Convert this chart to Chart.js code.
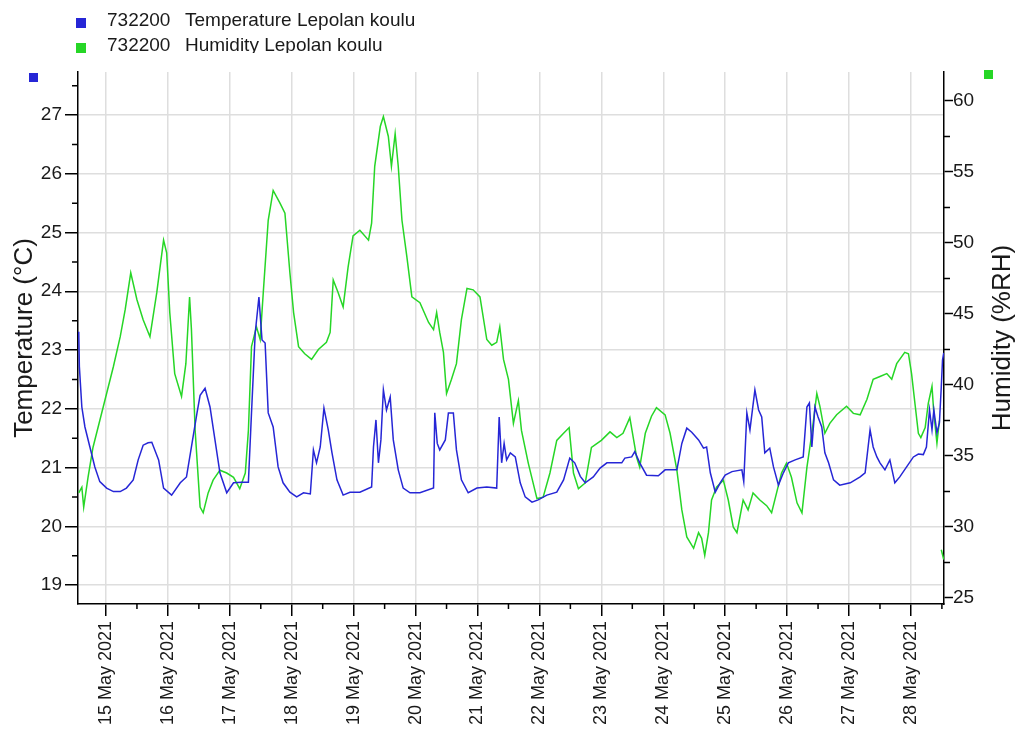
<!DOCTYPE html>
<html>
<head>
<meta charset="utf-8">
<title>Temperature / Humidity Lepolan koulu</title>
<script src="https://cdn.jsdelivr.net/npm/chart.js@4"></script>
<style>
body{margin:0;background:#fff;width:1023px;height:731px;overflow:hidden;position:relative;font-family:'Liberation Sans',Arial,sans-serif}
canvas{position:absolute;left:0;top:0}
.legend{position:absolute;left:0;top:0;width:520px;height:53px;overflow:hidden}
.txt{position:absolute;font-size:19px;line-height:22px;color:#1a1a1a;white-space:pre}
.sq{position:absolute;width:10px;height:10px}
</style>
</head>
<body>
<canvas id="c" width="1023" height="731"></canvas>
<div class="legend">
  <div class="sq" style="left:76px;top:18px;background:#2626d6"></div>
  <div class="txt" style="left:107px;top:9px">732200</div>
  <div class="txt" style="left:185px;top:9px">Temperature Lepolan koulu</div>
  <div class="sq" style="left:76px;top:43px;background:#26d626"></div>
  <div class="txt" style="left:107px;top:34px">732200</div>
  <div class="txt" style="left:185px;top:34px">Humidity Lepolan koulu</div>
</div>
<div class="sq" style="left:29px;top:73px;width:9px;height:9px;background:#2626d6"></div>
<div class="sq" style="left:984px;top:70px;width:9px;height:9px;background:#26d626"></div>
<script>
// x = days since 15 May 2021 00:00
const dayTicks = [0,1,2,3,4,5,6,7,8,9,10,11,12,13];
const dayLabels = ['15 May 2021','16 May 2021','17 May 2021','18 May 2021','19 May 2021','20 May 2021','21 May 2021',
  '22 May 2021','23 May 2021','24 May 2021','25 May 2021','26 May 2021','27 May 2021','28 May 2021'];
const dayMinor = [0.5,1.5,2.5,3.5,4.5,5.5,6.5,7.5,8.5,9.5,10.5,11.5,12.5,13.5];
const tempTicks = [19,20,21,22,23,24,25,26,27];
const tempMinor = [19.5,20.5,21.5,22.5,23.5,24.5,25.5,26.5,27.5];
const humTicks = [25,30,35,40,45,50,55,60];
const humMinor = [27.5,32.5,37.5,42.5,47.5,52.5,57.5];

const xMin = -0.452, xMax = 13.534;
const tMin = 18.677, tMax = 27.732;
const hMin = 24.577, hMax = 62.04;

const tempX = [-0.44,-0.43,-0.39,-0.34,-0.26,-0.18,-0.10,0.01,0.12,0.23,0.33,0.44,0.52,0.60,0.68,0.74,0.85,0.93,
  1.06,1.20,1.30,1.38,1.47,1.52,1.60,1.68,1.76,1.84,1.95,2.06,2.19,2.30,2.35,2.41,2.47,2.52,2.57,2.62,2.70,2.78,2.86,2.97,
  3.08,3.19,3.30,3.35,3.40,3.46,3.52,3.59,3.65,3.73,3.83,3.94,4.10,4.29,4.32,4.36,4.40,4.44,4.48,4.53,4.59,4.64,4.72,4.80,4.91,
  5.07,5.29,5.31,5.35,5.39,5.48,5.53,5.61,5.66,5.74,5.85,5.99,6.15,6.31,6.35,6.39,6.43,6.47,6.53,6.61,6.69,6.77,6.88,6.98,
  7.12,7.28,7.39,7.49,7.57,7.66,7.74,7.87,7.98,8.09,8.33,8.38,8.49,8.54,8.62,8.73,8.92,9.03,9.22,9.30,9.38,9.46,9.57,9.65,9.70,
  9.76,9.84,9.92,10.00,10.11,10.27,10.30,10.35,10.40,10.48,10.54,10.59,10.64,10.72,10.78,10.86,10.94,11.02,11.13,11.26,11.32,
  11.36,11.40,11.45,11.50,11.56,11.61,11.67,11.75,11.85,12.02,12.18,12.26,12.29,12.34,12.39,12.45,12.50,12.58,12.66,12.74,12.82,
  12.93,13.04,13.12,13.20,13.25,13.30,13.34,13.37,13.42,13.46,13.49,13.51,13.53];
const tempY = [23.31,22.72,22.03,21.69,21.35,21.01,20.76,20.65,20.59,20.59,20.65,20.79,21.13,21.38,21.42,21.43,21.13,20.65,
  20.53,20.74,20.84,21.35,21.93,22.23,22.35,22.03,21.47,20.91,20.57,20.74,20.75,20.75,21.93,23.29,23.90,23.17,23.12,21.93,21.69,21.01,20.74,20.58,
  20.50,20.57,20.55,21.30,21.08,21.35,22.01,21.64,21.25,20.79,20.53,20.58,20.58,20.67,21.35,21.81,21.08,21.47,22.32,21.98,22.20,21.47,20.96,20.65,20.57,
  20.57,20.65,21.93,21.41,21.30,21.47,21.93,21.93,21.30,20.79,20.57,20.65,20.67,20.65,21.86,21.08,21.41,21.13,21.25,21.18,20.74,20.50,20.41,20.45,
  20.53,20.58,20.79,21.16,21.08,20.85,20.74,20.84,20.99,21.08,21.08,21.16,21.18,21.27,21.08,20.87,20.86,20.96,20.96,21.41,21.67,21.60,21.47,21.33,21.35,
  20.91,20.58,20.74,20.87,20.93,20.96,20.76,21.93,21.64,22.32,21.98,21.86,21.25,21.33,21.01,20.70,20.91,21.08,21.13,21.18,22.03,
  22.10,21.35,22.03,21.86,21.69,21.25,21.08,20.79,20.70,20.74,20.84,20.91,21.18,21.64,21.35,21.18,21.08,20.96,21.13,20.74,20.84,
  21.01,21.18,21.23,21.22,21.35,21.98,21.64,21.98,21.59,21.76,22.37,22.83,22.95];

const humX = [-0.44,-0.39,-0.36,-0.29,-0.21,-0.10,0.01,0.12,0.23,0.31,0.40,0.50,0.60,0.71,0.82,0.93,0.98,
  1.03,1.11,1.22,1.29,1.35,1.38,1.44,1.52,1.57,1.65,1.73,1.84,1.95,2.06,2.16,2.25,2.30,2.35,2.43,2.49,2.54,2.62,2.70,2.81,2.89,2.97,
  3.03,3.11,3.21,3.32,3.43,3.56,3.62,3.67,3.75,3.83,3.91,3.99,4.10,4.24,4.29,4.34,4.43,4.48,4.56,4.61,4.67,4.72,4.78,4.86,4.94,
  5.07,5.21,5.29,5.34,5.39,5.45,5.50,5.58,5.66,5.74,5.83,5.93,6.04,6.15,6.23,6.31,6.36,6.42,6.50,6.58,6.66,6.71,6.82,6.96,
  7.06,7.17,7.28,7.39,7.48,7.55,7.63,7.74,7.84,8.00,8.14,8.25,8.35,8.46,8.57,8.62,8.71,8.81,8.89,9.03,9.11,9.22,9.30,9.38,9.49,
  9.57,9.62,9.67,9.73,9.78,9.86,9.97,10.05,10.13,10.19,10.29,10.37,10.45,10.56,10.67,10.75,10.83,10.91,10.99,11.07,11.16,11.24,
  11.32,11.40,11.48,11.53,11.61,11.69,11.80,11.96,12.07,12.18,12.29,12.39,12.50,12.61,12.69,12.77,12.90,12.96,13.01,13.07,13.12,
  13.16,13.23,13.28,13.34,13.37,13.42,13.46,13.47,13.49,13.53];
const humY = [32.4,32.8,31.4,33.5,35.6,37.5,39.4,41.3,43.4,45.3,47.9,46.0,44.6,43.4,46.5,50.2,49.3,
  45.1,40.8,39.2,41.5,46.2,43.9,36.8,31.4,31.0,32.4,33.3,34.0,33.8,33.5,32.7,33.8,36.8,42.7,44.1,43.2,46.5,51.6,53.7,52.8,52.1,47.9,
  45.1,42.7,42.2,41.8,42.5,43.0,43.7,47.4,46.5,45.5,48.3,50.5,50.9,50.2,51.4,55.4,58.2,58.9,57.5,55.4,57.7,55.4,51.6,49.0,46.2,
  45.8,44.4,43.9,45.1,43.7,42.3,39.4,40.4,41.5,44.6,46.8,46.7,46.2,43.2,42.8,43.0,44.1,41.8,40.4,37.3,38.9,36.8,34.5,32.0,
  32.1,33.8,36.1,36.6,37.0,33.8,32.7,33.1,35.6,36.1,36.7,36.3,36.6,37.7,34.9,34.2,36.6,37.8,38.4,37.9,36.6,34.0,31.2,29.3,28.5,
  29.6,29.2,28.0,29.6,31.9,32.8,33.3,31.9,30.0,29.6,31.9,31.2,32.4,31.9,31.5,31.0,32.4,33.8,34.5,33.5,31.7,31.0,
  34.2,36.6,39.4,38.5,36.6,37.3,37.9,38.5,38.0,37.9,39.0,40.4,40.6,40.8,40.4,41.5,42.3,42.2,40.8,38.5,36.6,
  36.3,37.0,38.7,39.9,38.0,35.9,37.5,null,28.4,27.7];

const BLUE = '#2626d6', GREEN = '#26d626', GRID = '#dedede', INK = '#1a1a1a';

Chart.defaults.font.family = "'Liberation Sans', Arial, sans-serif";

// minor ticks and the right axis title (reads bottom to top like the left one)
const extras = {
  id: 'extras',
  afterDraw(chart) {
    const ctx = chart.ctx;
    const sx = chart.scales.x, st = chart.scales.yT, sh = chart.scales.yH;
    ctx.save();
    ctx.strokeStyle = '#000';
    ctx.lineWidth = 1.5;
    ctx.beginPath();
    dayMinor.forEach(v => { if (v > sx.max) return; const p = sx.getPixelForValue(v); ctx.moveTo(p, sx.top); ctx.lineTo(p, sx.top + 5); });
    tempMinor.forEach(v => { if (v > st.max) return; const p = st.getPixelForValue(v); ctx.moveTo(st.right, p); ctx.lineTo(st.right - 6, p); });
    humMinor.forEach(v => { const p = sh.getPixelForValue(v); ctx.moveTo(sh.left, p); ctx.lineTo(sh.left + 6, p); });
    ctx.stroke();
    ctx.translate(1003, 338);
    ctx.rotate(-Math.PI / 2);
    ctx.font = "26px 'Liberation Sans', Arial, sans-serif";
    ctx.fillStyle = INK;
    ctx.textAlign = 'center';
    ctx.textBaseline = 'middle';
    ctx.fillText('Humidity (%RH)', 0, 0);
    ctx.restore();
  }
};

new Chart(document.getElementById('c'), {
  type: 'line',
  data: {
    datasets: [
      {
        label: 'Temperature Lepolan koulu',
        data: tempX.map((x, i) => ({x: x, y: tempY[i]})),
        yAxisID: 'yT',
        borderColor: BLUE,
        borderWidth: 1.5,
        pointRadius: 0,
        tension: 0
      },
      {
        label: 'Humidity Lepolan koulu',
        data: humX.map((x, i) => ({x: x, y: humY[i]})),
        yAxisID: 'yH',
        borderColor: GREEN,
        borderWidth: 1.5,
        pointRadius: 0,
        tension: 0,
        spanGaps: false
      }
    ]
  },
  options: {
    responsive: false,
    devicePixelRatio: 1,
    animation: false,
    layout: {padding: {top: 72, left: 0, right: 0, bottom: 0}},
    plugins: {legend: {display: false}, tooltip: {enabled: false}},
    scales: {
      x: {
        type: 'linear',
        min: xMin, max: xMax,
        afterBuildTicks: s => { s.ticks = dayTicks.map(v => ({value: v})); },
        afterFit: s => { s.height = 127; },
        grid: {color: GRID, lineWidth: 1.5, tickColor: '#000', tickLength: 12, tickWidth: 1.5},
        border: {color: '#000', width: 1.5},
        ticks: {
          autoSkip: false, minRotation: 90, maxRotation: 90, padding: 5,
          color: INK, font: {size: 18},
          callback: v => dayLabels[dayTicks.indexOf(v)]
        }
      },
      yT: {
        type: 'linear',
        position: 'left',
        min: tMin, max: tMax,
        afterBuildTicks: s => { s.ticks = tempTicks.map(v => ({value: v})); },
        afterFit: s => { s.width = 78; },
        grid: {color: GRID, lineWidth: 1.5, tickColor: '#000', tickLength: 13, tickWidth: 1.5},
        border: {color: '#000', width: 1.5},
        ticks: {padding: 3, color: INK, font: {size: 19}},
        title: {display: true, text: 'Temperature (°C)', color: INK, font: {size: 26}, padding: {top: 9, bottom: 0}}
      },
      yH: {
        type: 'linear',
        position: 'right',
        min: hMin, max: hMax,
        afterBuildTicks: s => { s.ticks = humTicks.map(v => ({value: v})); },
        afterFit: s => { s.width = 79; },
        grid: {drawOnChartArea: false, tickColor: '#000', tickLength: 9, tickWidth: 1.5},
        border: {color: '#000', width: 1.5},
        ticks: {padding: 0, color: INK, font: {size: 19}}
      }
    }
  },
  plugins: [extras]
});
</script>
</body>
</html>
